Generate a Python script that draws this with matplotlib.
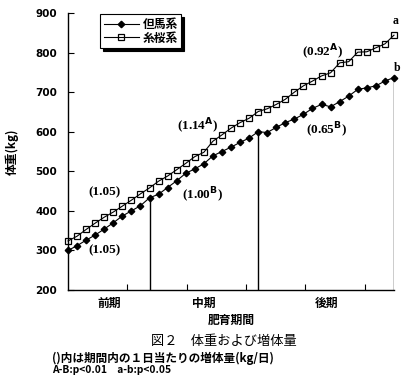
import matplotlib
matplotlib.use("Agg")
import matplotlib.pyplot as plt
import numpy as np

plt.rcParams['font.family'] = ['Noto Sans CJK JP', 'DejaVu Sans']

# ---- data ----
series_names = ["但馬系", "糸桜系"]
tajima = [300, 312, 326, 339, 354, 370, 387, 400, 413, 433, 442, 459, 476, 495,
          506, 519, 539, 550, 561, 573, 584, 600, 598, 611, 623, 632, 644, 659,
          669, 663, 676, 690, 707, 711, 716, 728, 737]
itozakura = [324, 336, 353, 369, 384, 397, 412, 427, 443, 458, 475, 488, 504, 520,
             537, 548, 576, 592, 609, 623, 634, 651, 658, 669, 682, 700, 716, 728,
             741, 749, 774, 777, 801, 802, 812, 822, 844]
period_ends = [9, 21, 36]
period_labels = ["前期", "中期", "後期"]
yticks = [200, 300, 400, 500, 600, 700, 800, 900]
gain_labels = ["(1.05)", "(1.05)", "(1.14$^{\\mathbf{A}}$)", "(1.00$^{\\mathbf{B}}$)",
               "(0.92$^{\\mathbf{A}}$)", "(0.65$^{\\mathbf{B}}$)"]
gain_pos = [(4.0, 448), (4.0, 301), (14.3, 612), (14.9, 438), (28.1, 801), (28.6, 604)]

x = np.arange(len(tajima))

fig = plt.figure(figsize=(4.11, 3.80), dpi=100)
ax = fig.add_axes([0.1655, 0.2368, 0.9586 - 0.1655, 0.9658 - 0.2368])

l1, = ax.plot(x, tajima, color='black', lw=0.8, marker='D', markersize=3.3,
              markerfacecolor='black', markeredgecolor='black', clip_on=False,
              label=series_names[0])
l2, = ax.plot(x, itozakura, color='black', lw=0.8, marker='s', markersize=5.0,
              markerfacecolor='none', markeredgecolor='black', markeredgewidth=0.9,
              clip_on=False, label=series_names[1])

ax.vlines(period_ends, 200, [tajima[i] for i in period_ends], color='black', lw=1.0)

ax.set_xlim(0, 36)
ax.set_ylim(200, 900)
ax.set_yticks(yticks)
ax.set_yticklabels([str(v) for v in yticks], fontsize=7.5, fontweight='bold',
                   family='DejaVu Sans')
ax.set_xticks(np.arange(1, 6) * 6.55)
ax.set_xticklabels([])
ax.tick_params(axis='both', direction='in', length=4, width=0.8, color='black')
ax.tick_params(axis='y', pad=8)
for s in ['top', 'right']:
    ax.spines[s].set_visible(False)
for s in ['left', 'bottom']:
    ax.spines[s].set_linewidth(1.0)

# period labels
starts = [0] + period_ends[:-1]
for lab, a, b in zip(period_labels, starts, period_ends):
    ax.text((a + b) / 2, -0.025, lab, transform=ax.get_xaxis_transform(),
            ha='center', va='top', fontsize=8.5, fontweight='bold')

# gain annotations
for lab, (px, py) in zip(gain_labels, gain_pos):
    ax.text(px, py, lab, ha='center', va='center', fontsize=9.5, fontweight='bold',
            family='Liberation Serif')

ax.text(36.2, 880, "a", ha='center', va='center', fontsize=8.5, fontweight='bold',
        family='Liberation Serif')
ax.text(36.3, 761, "b", ha='center', va='center', fontsize=8.5, fontweight='bold',
        family='Liberation Serif')

leg = ax.legend(handles=[l1, l2], loc='upper left', bbox_to_anchor=(0.098, 0.995),
                borderaxespad=0, fancybox=False, edgecolor='black', framealpha=1,
                shadow={'color': 'black', 'alpha': 1},
                prop={'weight': 'bold', 'size': 8.5}, handlelength=3.0,
                handletextpad=0.3, borderpad=0.3, labelspacing=0.05)
leg.get_frame().set_linewidth(0.8)

ax.set_ylabel("体重(kg)", fontsize=8.5, fontweight='bold', labelpad=12)

fig.text(231 / 411, 1 - 320 / 380, "肥育期間", ha='center', va='center',
         fontsize=8.5, fontweight='bold')
fig.text(224 / 411, 1 - 342 / 380, "図２　体重および増体量", ha='center', va='center',
         fontsize=9.5)
fig.text(52 / 411, 1 - 358.5 / 380, "()内は期間内の１日当たりの増体量(kg/日)", ha='left',
         va='center', fontsize=8.4, fontweight='bold')
fig.text(52 / 411, 1 - 370 / 380, "A-B:p<0.01　a-b:p<0.05", ha='left',
         va='center', fontsize=7.4, fontweight='bold')

fig.savefig("out.png", dpi=100)
